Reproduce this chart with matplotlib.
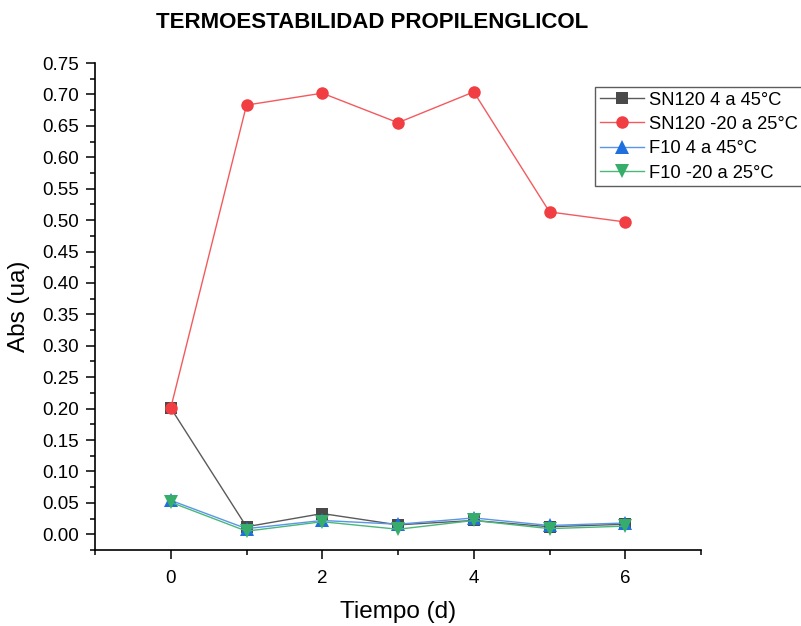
import matplotlib.pyplot as plt
from matplotlib.ticker import MultipleLocator
from matplotlib.lines import Line2D

plt.rcParams['font.family'] = ['Liberation Sans', 'DejaVu Sans']

# tiempo (dias) y absorbancias
tiempo = [0, 1, 2, 3, 4, 5, 6]
sn120_4_45 = [0.201, 0.012, 0.033, 0.015, 0.022, 0.012, 0.016]
sn120_m20_25 = [0.201, 0.683, 0.702, 0.655, 0.704, 0.513, 0.497]
f10_4_45 = [0.054, 0.009, 0.022, 0.016, 0.026, 0.014, 0.018]
f10_m20_25 = [0.051, 0.005, 0.020, 0.008, 0.022, 0.009, 0.013]

labels = ['SN120 4 a 45°C', 'SN120 -20 a 25°C', 'F10 4 a 45°C', 'F10 -20 a 25°C']
series = [sn120_4_45, sn120_m20_25, f10_4_45, f10_m20_25]
markers = ['s', 'o', '^', 'v']
mcolors = ['#4a4a4a', '#f03e42', '#1f6fdf', '#37ad6b']
lcolors = ['#5a5a5a', '#f35a5e', '#5a95ea', '#49b87a']
msizes = [8.5, 9, 9.5, 9.5]

fig = plt.figure(figsize=(8.01, 6.26), dpi=100)
ax = fig.add_axes([95 / 801, 1 - 550 / 626, (701 - 95) / 801, (550 - 63) / 626])

for y, m, mc, lc, ms in zip(series, markers, mcolors, lcolors, msizes):
    ax.plot(tiempo, y, color=lc, lw=1.0, marker=m, ms=ms,
            markerfacecolor=mc, markeredgewidth=0)

ax.set_xlim(-1, 7)
ax.set_ylim(-0.025, 0.75)
ax.xaxis.set_major_locator(MultipleLocator(2))
ax.xaxis.set_minor_locator(MultipleLocator(1))
ax.yaxis.set_major_locator(MultipleLocator(0.05))
ax.yaxis.set_minor_locator(MultipleLocator(0.025))
ax.yaxis.set_major_formatter(plt.FormatStrFormatter('%.2f'))

for s in ['top', 'right']:
    ax.spines[s].set_visible(False)
for s in ['left', 'bottom']:
    ax.spines[s].set_linewidth(1.2)

ax.tick_params(which='major', direction='out', length=6.5, width=1.1,
               labelsize=13.5, pad=5)
ax.tick_params(which='minor', direction='out', length=3.3, width=1.1)
ax.tick_params(axis='x', which='major', pad=8)

ax.set_xlabel('Tiempo (d)', fontsize=17.5, labelpad=10)
ax.set_ylabel('Abs (ua)', fontsize=17.5, labelpad=9)

fig.text(372 / 801, 1 - 23 / 626, 'TERMOESTABILIDAD PROPILENGLICOL',
         ha='center', va='center', fontsize=16, fontweight='bold')

handles = [Line2D([], [], color=lc, lw=1.0, marker=m, ms=ms,
                  markerfacecolor=mc, markeredgewidth=0)
           for m, mc, lc, ms in zip(markers, mcolors, lcolors, msizes)]
leg = fig.legend(handles, labels, loc='upper left',
                 bbox_to_anchor=(595 / 801, 1 - 87 / 626),
                 fontsize=13.2, frameon=True, fancybox=False,
                 edgecolor='#333333', handlelength=2.4, handletextpad=0.3,
                 labelspacing=0.4, borderpad=0.25, borderaxespad=0)
leg.get_frame().set_linewidth(1.0)

fig.savefig('out.png', dpi=100)
